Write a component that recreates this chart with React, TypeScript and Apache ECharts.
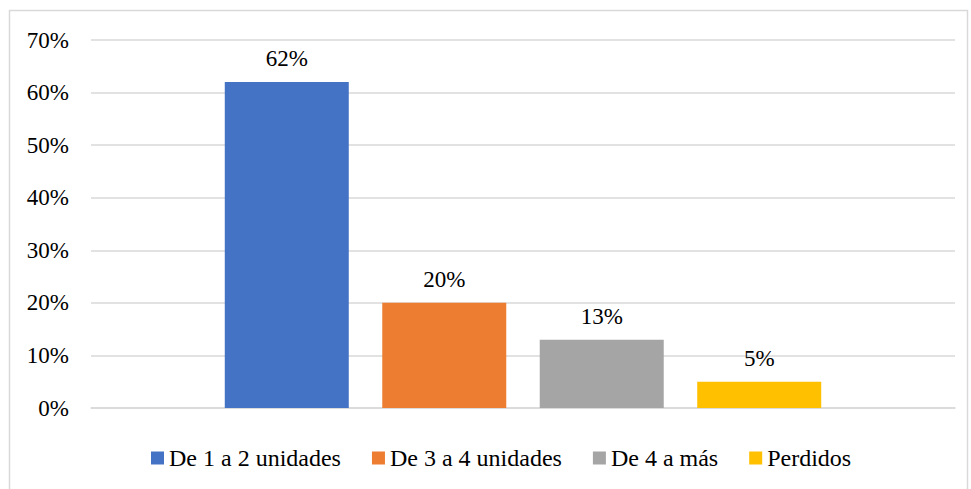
import React, { useEffect, useRef } from "react";
import * as echarts from "echarts";

const seriesNames = ["De 1 a 2 unidades", "De 3 a 4 unidades", "De 4 a más", "Perdidos"];
const seriesValues = [62, 20, 13, 5];
const seriesColors = ["#4472C4", "#ED7D31", "#A5A5A5", "#FFC000"];
const categories = [""];
const yTicks = { min: 0, max: 70, interval: 10 };

export default function App() {
  const ref = useRef<HTMLDivElement>(null);
  useEffect(() => {
    document.body.style.margin = "0";
    const chart = echarts.init(ref.current!, null, { renderer: "svg" });
    const font = "Liberation Serif";
    chart.setOption({
      animation: false,
      textStyle: { fontFamily: font },
      grid: { left: 91, right: 16, top: 40, bottom: 81, containLabel: false },
      graphic: [
        {
          type: "rect",
          shape: { x: 9.5, y: 10.5, width: 958, height: 480 },
          style: { fill: "none", stroke: "#d9d9d9", lineWidth: 1.5 },
          silent: true,
        },
      ],
      legend: {
        top: 446,
        left: 151,
        padding: 0,
        itemWidth: 13,
        itemHeight: 13,
        itemGap: 31,
        icon: "rect",
        textStyle: { fontFamily: font, fontSize: 24, color: "#000" },
        data: seriesNames,
      },
      xAxis: {
        type: "category",
        data: categories,
        axisLine: { show: true, lineStyle: { color: "#d9d9d9", width: 1.5 } },
        axisTick: { show: false },
        axisLabel: { show: false },
      },
      yAxis: {
        type: "value",
        min: yTicks.min,
        max: yTicks.max,
        interval: yTicks.interval,
        axisLine: { show: false },
        axisTick: { show: false },
        splitLine: { lineStyle: { color: "#d9d9d9", width: 1.5 } },
        axisLabel: {
          formatter: (v: number) => `${v}%`,
          fontFamily: font,
          fontSize: 23,
          color: "#000",
          margin: 22,
        },
      },
      series: seriesNames.map((name, i) => ({
        name,
        type: "bar",
        data: [seriesValues[i]],
        barWidth: 124,
        barGap: "27%",
        itemStyle: { color: seriesColors[i] },
        label: {
          show: true,
          position: "top",
          distance: 12,
          formatter: (p: any) => `${p.value}%`,
          fontFamily: font,
          fontSize: 23,
          color: "#000",
        },
      })),
    });
    return () => chart.dispose();
  }, []);
  return <div ref={ref} style={{ width: 971, height: 489 }} />;
}
